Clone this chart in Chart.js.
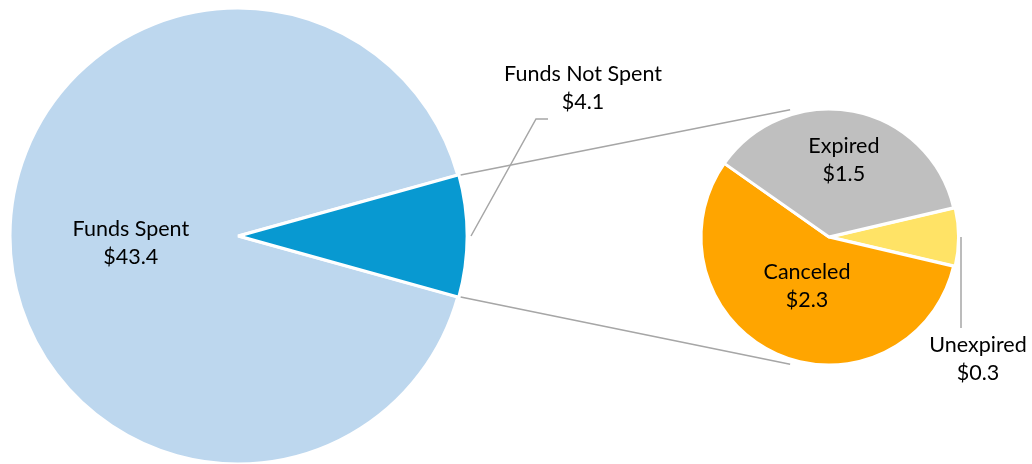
<!DOCTYPE html>
<html>
<head>
<meta charset="utf-8">
<script src="https://cdn.jsdelivr.net/npm/chart.js@4.4.0/dist/chart.umd.min.js"></script>
<style>
  body { margin: 0; background: #fff; }
  #wrap { position: relative; width: 1032px; height: 464px; }
  canvas { position: absolute; left: 0; top: 0; }
</style>
</head>
<body>
<div id="wrap">
  <canvas id="mainPie" width="1032" height="464"></canvas>
  <canvas id="subPie" width="1032" height="464"></canvas>
</div>
<script>
'use strict';

// values ($)
let mainLabels = ['Funds Spent', 'Funds Not Spent'];
let mainValues = [43.4, 4.1];
let subLabels = ['Unexpired', 'Canceled', 'Expired'];
let subValues = [0.3, 2.3, 1.5];

let mainColors = ['#BDD7EE', '#0899D1'];
let subColors = ['#FFE366', '#FFA500', '#BFBFBF'];

const FONT = '21.5px Lato';
const LINE_H = 28;
const LEADER = '#A6A6A6';

function money(v) {
  return '$' + v.toFixed(1);
}

function drawText(ctx, lines, x, y) {
  ctx.save();
  ctx.font = FONT;
  ctx.fillStyle = '#000';
  ctx.textAlign = 'center';
  ctx.textBaseline = 'middle';
  lines.forEach((t, i) => {
    ctx.fillText(t, x, y + (i - (lines.length - 1) / 2) * LINE_H);
  });
  ctx.restore();
}

function line(ctx, pts, w) {
  ctx.save();
  ctx.strokeStyle = LEADER;
  ctx.lineWidth = w || 1.5;
  ctx.beginPath();
  ctx.moveTo(pts[0].x, pts[0].y);
  for (let i = 1; i < pts.length; i++) ctx.lineTo(pts[i].x, pts[i].y);
  ctx.stroke();
  ctx.restore();
}

// point on an arc (taking its explode offset into account)
function arcPoint(arc, angle, r) {
  let mid = (arc.startAngle + arc.endAngle) / 2;
  let off = arc.options.offset || 0;
  return {
    x: arc.x + Math.cos(mid) * off + Math.cos(angle) * r,
    y: arc.y + Math.sin(mid) * off + Math.sin(angle) * r
  };
}

function midAngle(arc) {
  return (arc.startAngle + arc.endAngle) / 2;
}

let mainTotal = mainValues[0] + mainValues[1];
let subTotal = subValues[0] + subValues[1] + subValues[2];

// labels on the big pie
let mainLabelPlugin = {
  id: 'mainLabels',
  afterDatasetsDraw(chart) {
    let ctx = chart.ctx;
    let arcs = chart.getDatasetMeta(0).data;

    // Funds Spent - inside
    let a0 = arcs[0];
    let p0 = arcPoint(a0, midAngle(a0), a0.outerRadius * 0.47);
    drawText(ctx, [mainLabels[0], money(mainValues[0])], p0.x, p0.y + 7);

    // Funds Not Spent - outside with leader
    let a1 = arcs[1];
    let s = arcPoint(a1, midAngle(a1), a1.outerRadius + 2);
    let elbow = { x: s.x + 65, y: s.y - 117 };
    let end = { x: elbow.x + 12, y: elbow.y };
    line(ctx, [s, elbow, end]);
    drawText(ctx, [mainLabels[1], money(mainValues[1])], end.x + 35, end.y - 31);
  }
};

let mainChart = new Chart(document.getElementById('mainPie'), {
  type: 'pie',
  data: {
    labels: mainLabels,
    datasets: [{
      data: mainValues,
      backgroundColor: mainColors,
      borderColor: '#fff',
      borderWidth: 3,
      offset: [0, 3]
    }]
  },
  options: {
    responsive: false,
    animation: false,
    rotation: 90 + (mainValues[1] / mainTotal) * 180,
    radius: 228,
    layout: { padding: { left: 10, top: 8, right: 1032 - 466, bottom: 0 } },
    plugins: { legend: { display: false }, tooltip: { enabled: false } }
  },
  plugins: [mainLabelPlugin]
});

// connector lines + labels on the small pie
let subLabelPlugin = {
  id: 'subLabels',
  beforeDatasetsDraw(chart) {
    let ctx = chart.ctx;
    let big = mainChart.getDatasetMeta(0).data[1];
    let small = chart.getDatasetMeta(0).data[1];
    let cx = small.x, cy = small.y, r = small.outerRadius + 5;
    let top = arcPoint(big, big.startAngle, big.outerRadius);
    let bot = arcPoint(big, big.endAngle, big.outerRadius);
    let deg = Math.PI / 180;
    line(ctx, [top, { x: cx + Math.cos(253 * deg) * r, y: cy + Math.sin(253 * deg) * r }]);
    line(ctx, [bot, { x: cx + Math.cos(107 * deg) * r, y: cy + Math.sin(107 * deg) * r }]);
  },
  afterDatasetsDraw(chart) {
    let ctx = chart.ctx;
    let arcs = chart.getDatasetMeta(0).data;

    // Expired
    let e = arcs[2];
    let pe = arcPoint(e, midAngle(e), e.outerRadius * 0.61);
    drawText(ctx, [subLabels[2], money(subValues[2])], pe.x, pe.y);

    // Canceled
    let c = arcs[1];
    let pc = arcPoint(c, midAngle(c), c.outerRadius * 0.42);
    drawText(ctx, [subLabels[1], money(subValues[1])], pc.x, pc.y);

    // Unexpired - outside, leader line straight down
    let u = arcs[0];
    let s = arcPoint(u, midAngle(u), u.outerRadius);
    let lx = s.x;
    line(ctx, [{ x: lx, y: s.y }, { x: lx, y: s.y + 91 }]);
    drawText(ctx, [subLabels[0], money(subValues[0])], lx + 17, s.y + 122);
  }
};

let subChart = new Chart(document.getElementById('subPie'), {
  type: 'pie',
  data: {
    labels: subLabels,
    datasets: [{
      data: subValues,
      backgroundColor: subColors,
      borderColor: '#fff',
      borderWidth: 3,
      offset: [4, 0, 0]
    }]
  },
  options: {
    responsive: false,
    animation: false,
    rotation: 90 - (subValues[0] / subTotal) * 180,
    radius: 128,
    layout: { padding: { left: 701, top: 109, right: 1032 - 957, bottom: 464 - 365 } },
    plugins: { legend: { display: false }, tooltip: { enabled: false } }
  },
  plugins: [subLabelPlugin]
});
</script>
</body>
</html>
